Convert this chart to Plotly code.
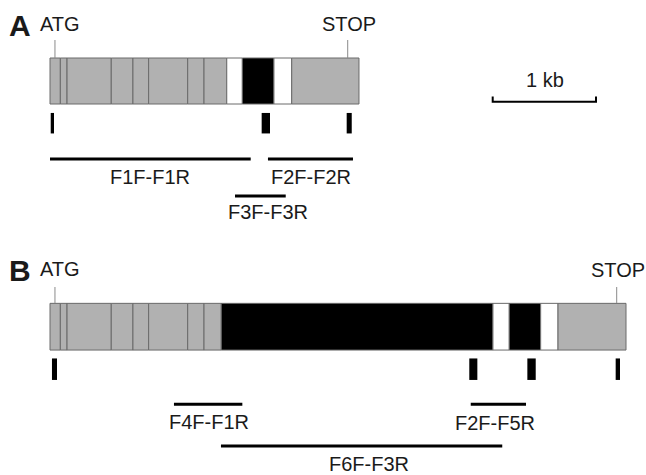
import plotly.graph_objects as go

# ---------------- data (positions in kb along the gene) ----------------
# Panel A gene model segments
a_seg_start = [0.000, 0.100, 0.165, 0.593, 0.803, 0.955, 1.333, 1.491, 1.711, 1.862, 2.168, 2.340]
a_seg_end   = [0.100, 0.165, 0.593, 0.803, 0.955, 1.333, 1.491, 1.711, 1.862, 2.168, 2.340, 2.991]
a_seg_kind  = ["grey"] * 8 + ["white", "black", "white", "grey"]

# Panel B gene model segments
b_seg_start = [0.000, 0.100, 0.165, 0.593, 0.803, 0.955, 1.333, 1.491, 1.658, 4.288, 4.446, 4.750, 4.918]
b_seg_end   = [0.100, 0.165, 0.593, 0.803, 0.955, 1.333, 1.491, 1.658, 4.288, 4.446, 4.750, 4.918, 5.576]
b_seg_kind  = ["grey"] * 8 + ["black", "white", "black", "white", "grey"]

# start / stop codon positions (kb)
a_atg, a_stop = 0.048, 2.882
b_atg, b_stop = 0.048, 5.486

# primer (probe) marks under each gene (kb)
a_mark_start = [0.007, 2.049, 2.872]
a_mark_end   = [0.039, 2.130, 2.921]
b_mark_start = [0.019, 4.059, 4.621, 5.476]
b_mark_end   = [0.068, 4.137, 4.702, 5.518]

# PCR amplicons (kb)
a_amp_names = ["F1F-F1R", "F2F-F2R", "F3F-F3R"]
a_amp_start = [0.000, 2.110, 1.791]
a_amp_end   = [1.943, 2.933, 2.282]

b_amp_names = ["F4F-F1R", "F2F-F5R", "F6F-F3R"]
b_amp_start = [1.200, 4.073, 1.655]
b_amp_end   = [1.862, 4.608, 4.378]

scale_bar_kb = 1.0

# ---------------- styling / layout ----------------
PX_PER_KB = 103.3
ORIGIN_PX = 50
W, H = 646, 475
FONT = "Liberation Sans, Arial, sans-serif"
TXT = "#1a1a1a"
kind_color = {"grey": "#b1b1b1", "white": "#ffffff", "black": "#000000"}

def kb(px):
    return (px - ORIGIN_PX) / PX_PER_KB

fig = go.Figure()

def gene(starts, ends, kinds, yc, h):
    fig.add_trace(go.Bar(
        orientation="h",
        base=starts,
        x=[e - s for s, e in zip(starts, ends)],
        y=[yc] * len(starts),
        width=[h] * len(starts),
        marker=dict(color=[kind_color[k] for k in kinds],
                    line=dict(color="#6a6a6a", width=1)),
        hoverinfo="skip", showlegend=False))

def marks(starts, ends, yc, h):
    fig.add_trace(go.Bar(
        orientation="h",
        base=starts,
        x=[e - s for s, e in zip(starts, ends)],
        y=[yc] * len(starts),
        width=[h] * len(starts),
        marker=dict(color="#000000", line=dict(width=0)),
        hoverinfo="skip", showlegend=False))

def vtick(xk, y0, y1):
    fig.add_trace(go.Scatter(x=[xk, xk], y=[y0, y1], mode="lines",
                             line=dict(color="#8a8a8a", width=1),
                             hoverinfo="skip", showlegend=False))

def amplicon(s, e, y):
    fig.add_trace(go.Scatter(x=[s, e], y=[y, y], mode="lines",
                             line=dict(color="#000000", width=3),
                             hoverinfo="skip", showlegend=False))

# Panel A
gene(a_seg_start, a_seg_end, a_seg_kind, 81, 46)
marks(a_mark_start, a_mark_end, 123.2, 20.5)
vtick(a_atg, 40, 58)
vtick(a_stop, 40, 58)
a_rows = [159, 159, 196]
for s, e, y in zip(a_amp_start, a_amp_end, a_rows):
    amplicon(s, e, y)

# Panel B
gene(b_seg_start, b_seg_end, b_seg_kind, 326.7, 46.7)
marks(b_mark_start, b_mark_end, 369.2, 21.5)
vtick(b_atg, 287, 303)
vtick(b_stop, 287, 303)
b_rows = [404.3, 404.3, 446]
for s, e, y in zip(b_amp_start, b_amp_end, b_rows):
    amplicon(s, e, y)

# scale bar
sb0 = kb(492.7)
fig.add_trace(go.Scatter(x=[sb0, sb0, sb0 + scale_bar_kb, sb0 + scale_bar_kb],
                         y=[96.5, 101.7, 101.7, 96.5], mode="lines",
                         line=dict(color="#000000", width=2),
                         hoverinfo="skip", showlegend=False))

ann = []
def text(xk, y, t, size=20, bold=False):
    ann.append(dict(x=xk, y=y, xref="x", yref="y", text=f"<b>{t}</b>" if bold else t,
                    showarrow=False, xanchor="center", yanchor="middle",
                    font=dict(family=FONT, size=size, color=TXT)))

text(kb(20), 25, "A", size=30, bold=True)
text(kb(60.3), 24, "ATG")
text(kb(348.8), 24, "STOP")
text(kb(545.3), 80, f"{scale_bar_kb:g} kb")
a_lab_dx = [0, 0.005, 0.07]
a_lab_y = [177, 177, 212]
for n, s, e, dx, y in zip(a_amp_names, a_amp_start, a_amp_end, a_lab_dx, a_lab_y):
    text((s + e) / 2 + dx, y, n)

text(kb(20), 270, "B", size=30, bold=True)
text(kb(59.7), 269, "ATG")
text(kb(618.3), 270, "STOP")
b_lab_dx = [0.005, -0.03, 0.07]
b_lab_y = [421.5, 422.5, 464]
for n, s, e, dx, y in zip(b_amp_names, b_amp_start, b_amp_end, b_lab_dx, b_lab_y):
    text((s + e) / 2 + dx, y, n)

fig.update_layout(
    width=W, height=H,
    margin=dict(l=0, r=0, t=0, b=0),
    paper_bgcolor="white", plot_bgcolor="white",
    barmode="overlay",
    annotations=ann,
    xaxis=dict(range=[kb(0), kb(W)], visible=False, fixedrange=True),
    yaxis=dict(range=[H, 0], visible=False, fixedrange=True),
    showlegend=False,
)

fig.write_html("out.html", config={"displayModeBar": False},
               post_script="document.body.style.margin='0';document.body.style.overflow='hidden';")
